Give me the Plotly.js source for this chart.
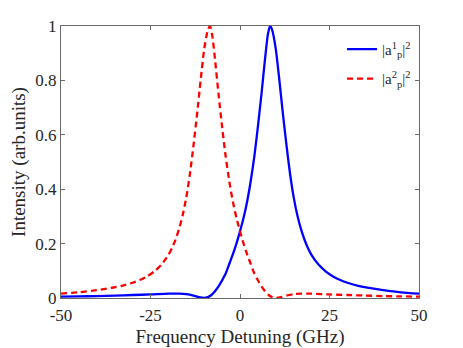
<!DOCTYPE html>
<html>
<head>
<meta charset="utf-8">
<script src="https://cdn.plot.ly/plotly-3.0.1.min.js"></script>
<style>html,body{margin:0;padding:0;background:#fff;}#chart{width:463px;height:348px;}</style>
</head>
<body>
<div id="chart"></div>
<script>
// Detuning (GHz) and intensities
var detuning1 = [-50, -45, -40, -35, -30, -25, -20, -17, -15, -13, -11.5, -10, -9, -8, -7, -6, -5, -4, -3, -2, -1, 0, 1, 2, 3, 4, 5, 6, 7, 7.8, 8.4, 9, 10, 11, 12, 13, 14, 15, 16, 17, 18, 19, 20, 22, 24, 26, 28, 30, 33, 36, 40, 45, 50];
var intensity1 = [0.005, 0.006, 0.007, 0.009, 0.011, 0.013, 0.016, 0.016, 0.014, 0.009, 0.003, 0.000, 0.003, 0.011, 0.025, 0.043, 0.065, 0.090, 0.125, 0.160, 0.200, 0.245, 0.295, 0.355, 0.430, 0.520, 0.630, 0.750, 0.880, 0.970, 1.000, 0.985, 0.915, 0.800, 0.675, 0.560, 0.455, 0.370, 0.305, 0.255, 0.215, 0.183, 0.158, 0.122, 0.097, 0.079, 0.066, 0.056, 0.045, 0.037, 0.029, 0.021, 0.016];
var detuning2 = [-50, -45, -40, -36, -33, -30, -28, -26, -24, -22, -20, -19, -18, -17, -16, -15, -14, -13, -12, -11, -10, -9, -8.4, -7.8, -7, -6, -5, -4, -3, -2, -1, 0, 1, 2, 3, 4, 5, 6, 7, 8, 9, 10, 11.5, 13, 15, 17, 20, 25, 30, 35, 40, 45, 50];
var intensity2 = [0.016, 0.021, 0.029, 0.037, 0.045, 0.056, 0.066, 0.079, 0.097, 0.122, 0.158, 0.183, 0.215, 0.255, 0.305, 0.370, 0.455, 0.560, 0.675, 0.800, 0.915, 0.985, 1.000, 0.970, 0.880, 0.750, 0.630, 0.520, 0.430, 0.355, 0.295, 0.245, 0.200, 0.160, 0.125, 0.090, 0.065, 0.043, 0.025, 0.011, 0.003, 0.000, 0.003, 0.009, 0.014, 0.016, 0.016, 0.013, 0.011, 0.009, 0.007, 0.006, 0.005];
var seriesNames = ['|a<sup>1</sup><sub>p</sub>|<sup>2</sup>', '|a<sup>2</sup><sub>p</sub>|<sup>2</sup>'];
var xTicks = [-50, -25, 0, 25, 50];
var yTicks = [0, 0.2, 0.4, 0.6, 0.8, 1];

var fontFam = 'Liberation Serif';
var axisColor = '#262626';
var traces = [
  {x: detuning1, y: intensity1, name: seriesNames[0], legendgroup: 'g1', type: 'scatter', mode: 'lines',
   line: {color: '#0000ff', width: 2.3, shape: 'spline', smoothing: 0.6}},
  {x: detuning2, y: intensity2, name: seriesNames[1], legendgroup: 'g2', type: 'scatter', mode: 'lines',
   line: {color: '#ff0000', width: 2.3, dash: '6px,4px', shape: 'spline', smoothing: 0.6}}
];
var axisCommon = {
  showgrid: false, zeroline: false, showline: true, mirror: 'ticks',
  linecolor: '#6a6a6a', linewidth: 1, ticks: 'inside', ticklen: 4, tickcolor: '#6a6a6a',
  tickfont: {family: fontFam, size: 17, color: axisColor}
};
var layout = {
  width: 463, height: 348,
  margin: {l: 61, r: 44, t: 26, b: 50},
  paper_bgcolor: '#fff', plot_bgcolor: '#fff',
  showlegend: true,
  legend: {x: 0.785, y: 0.975, xanchor: 'left', yanchor: 'top', bgcolor: 'rgba(255,255,255,0)',
           traceorder: 'grouped', tracegroupgap: 7,
           font: {family: fontFam, size: 15, color: axisColor}},
  xaxis: Object.assign({}, axisCommon, {range: [-50, 50], tickvals: xTicks, ticktext: xTicks.map(String),
    ticklabelstandoff: 2,
    title: {text: 'Frequency Detuning (GHz)', standoff: 5,
            font: {family: fontFam, size: 19, color: axisColor}}}),
  yaxis: Object.assign({}, axisCommon, {range: [0, 1], tickvals: yTicks, ticktext: yTicks.map(String),
    title: {text: 'Intensity (arb.units)', standoff: 4,
            font: {family: fontFam, size: 19, color: axisColor}}})
};
Plotly.newPlot('chart', traces, layout, {staticPlot: true, displayModeBar: false});
</script>
</body>
</html>
